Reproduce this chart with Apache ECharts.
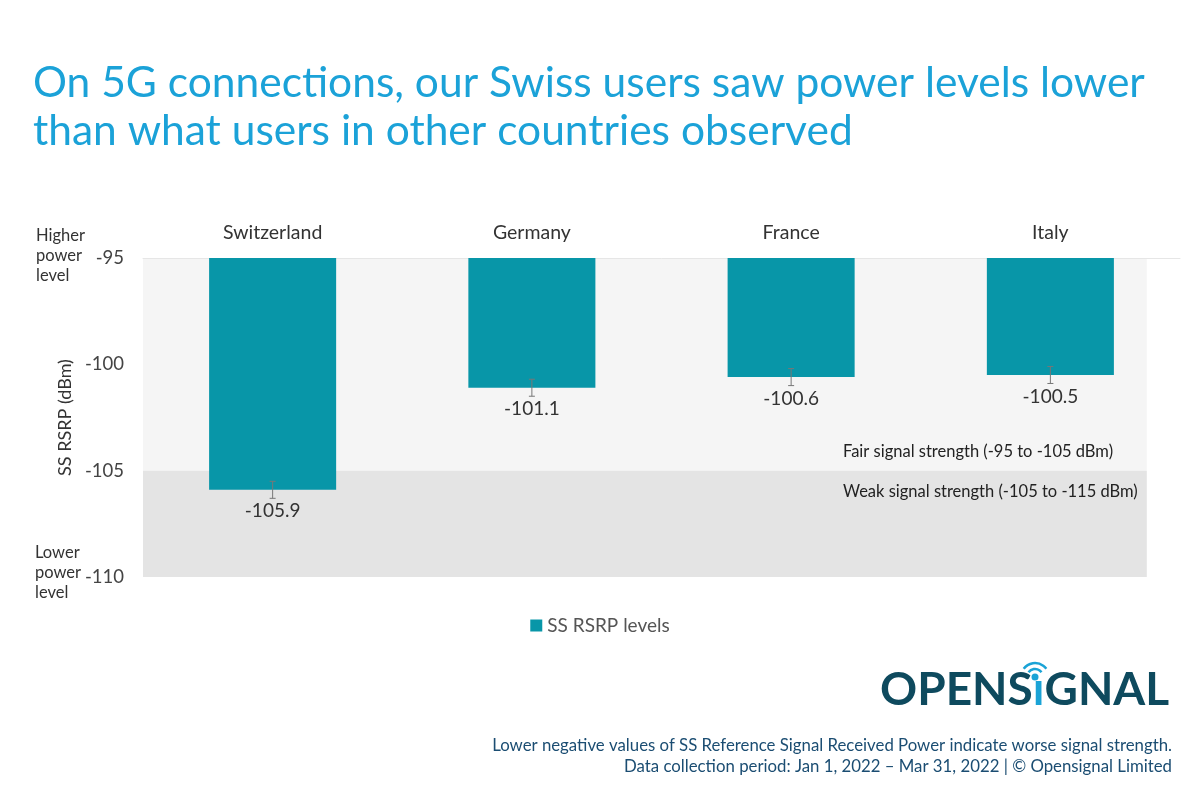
<!DOCTYPE html>
<html>
<head>
<meta charset="utf-8">
<script src="https://cdn.jsdelivr.net/npm/echarts@6/dist/echarts.min.js"></script>
<style>
	html, body { margin: 0; padding: 0; background: #fff; }
	#chart { width: 1200px; height: 800px; }
</style>
</head>
<body>
<div id="chart"></div>
<script>
var countries = ['Switzerland', 'Germany', 'France', 'Italy'];		// categories
var rsrp = [-105.9, -101.1, -100.6, -100.5];						// SS RSRP levels (dBm)
var errLow = [-106.3, -101.5, -101.0, -100.9];						// error bar lower end
var errHigh = [-105.5, -100.7, -100.2, -100.1];						// error bar upper end
var bandTop = [-95, -105];											// fair / weak bands
var bandBottom = [-105, -110];
var bandColors = ['#f5f5f5', '#e4e4e4'];

var font = 'Lato, "Open Sans", sans-serif';
var chart = echarts.init(document.getElementById('chart'));

var errData = countries.map(function (c, i) {
	return [i, errLow[i], errHigh[i]];
});
var bandData = bandTop.map(function (v, i) {
	return [bandTop[i], bandBottom[i], i];
});

var option = {
	backgroundColor: '#ffffff',
	textStyle: { fontFamily: font },
	animation: false,
	title: {
		text: 'On 5G connections, our Swiss users saw power levels lower\nthan what users in other countries observed',
		left: 28,
		top: 54,
		textStyle: { fontFamily: font, fontSize: 42.5, fontWeight: 'normal', color: '#1ba2d8', lineHeight: 48 }
	},
	legend: {
		bottom: 160,
		left: 'center',
		data: ['SS RSRP levels'],
		icon: 'rect',
		itemWidth: 12,
		itemHeight: 12,
		itemGap: 6,
		textStyle: { fontFamily: font, fontSize: 19, color: '#555' }
	},
	grid: { left: 143, right: 20, top: 258, bottom: 223 },
	xAxis: {
		type: 'category',
		position: 'top',
		data: countries,
		axisLine: { lineStyle: { color: '#e6e6e6' } },
		axisTick: { show: false },
		axisLabel: { fontFamily: font, fontSize: 19.5, color: '#333', margin: 15 }
	},
	yAxis: {
		type: 'value',
		min: -110,
		max: -95,
		interval: 5,
		name: 'SS RSRP (dBm)',
		nameLocation: 'middle',
		nameGap: 62,
		nameTextStyle: { fontFamily: font, fontSize: 18, color: '#333' },
		axisLine: { show: false },
		axisTick: { show: false },
		splitLine: { show: false },
		axisLabel: { fontFamily: font, fontSize: 18.5, color: '#444', margin: 19 }
	},
	series: [
		{
			name: 'bands',
			type: 'custom',
			data: bandData,
			silent: true,
			z: 0,
			renderItem: function (params, api) {
				var cs = params.coordSys;
				var top = api.coord([0, api.value(0)])[1];
				var bottom = api.coord([0, api.value(1)])[1];
				return {
					type: 'rect',
					shape: { x: cs.x, y: top, width: cs.width * 0.968, height: bottom - top },
					style: { fill: bandColors[api.value(2)] }
				};
			}
		},
		{
			name: 'SS RSRP levels',
			type: 'bar',
			data: rsrp,
			barWidth: '49%',
			clip: true,
			itemStyle: { color: '#0896a8' },
			label: {
				show: true,
				position: 'bottom',
				distance: 12,
				fontFamily: font,
				fontSize: 19,
				color: '#333',
				formatter: function (p) { return p.value.toFixed(1); }
			},
			z: 2
		},
		{
			name: 'error',
			type: 'custom',
			data: errData,
			z: 3,
			renderItem: function (params, api) {
				var lo = api.coord([api.value(0), api.value(1)]);
				var hi = api.coord([api.value(0), api.value(2)]);
				var w = 3;
				var st = { stroke: '#777', lineWidth: 1 };
				return {
					type: 'group',
					children: [
						{ type: 'line', shape: { x1: lo[0], y1: lo[1], x2: hi[0], y2: hi[1] }, style: st },
						{ type: 'line', shape: { x1: lo[0] - w, y1: lo[1], x2: lo[0] + w, y2: lo[1] }, style: st },
						{ type: 'line', shape: { x1: hi[0] - w, y1: hi[1], x2: hi[0] + w, y2: hi[1] }, style: st }
					]
				};
			}
		}
	],
	graphic: [
		{ type: 'text', z: 100, left: 36, top: 226, style: { text: 'Higher\npower\nlevel', font: '16.5px ' + font, fill: '#333', align: 'center', lineHeight: 20 } },
		{ type: 'text', z: 100, left: 35, top: 543, style: { text: 'Lower\npower\nlevel', font: '16.5px ' + font, fill: '#333', align: 'center', lineHeight: 20 } },
		{ type: 'text', z: 100, left: 843, top: 443, style: { text: 'Fair signal strength (-95 to -105 dBm)', font: '16.5px ' + font, fill: '#222' } },
		{ type: 'text', z: 100, left: 843, top: 483, style: { text: 'Weak signal strength (-105 to -115 dBm)', font: '16.5px ' + font, fill: '#222' } },
		{
			type: 'text', z: 100, left: 880, top: 667,
			style: {
				text: '{a|OPENS}{b|ı}{a|GNAL}',
				rich: {
					a: { font: 'bold 46px ' + font, fill: '#0e4a5e' },
					b: { font: 'bold 46px ' + font, fill: '#1aa3d6' }
				}
			}
		},
		{ type: 'circle', z: 100, shape: { cx: 1035, cy: 677, r: 3.5 }, style: { fill: '#1aa3d6' } },
		{ type: 'arc', z: 100, shape: { cx: 1035, cy: 677, r: 8, startAngle: -Math.PI * 0.8, endAngle: -Math.PI * 0.2 }, style: { stroke: '#1aa3d6', lineWidth: 2.5, fill: null } },
		{ type: 'arc', z: 100, shape: { cx: 1035, cy: 677, r: 14, startAngle: -Math.PI * 0.8, endAngle: -Math.PI * 0.2 }, style: { stroke: '#1aa3d6', lineWidth: 2.5, fill: null } },
		{ type: 'text', z: 100, right: 28, top: 737, style: { text: 'Lower negative values of SS Reference Signal Received Power indicate worse signal strength.', font: '16.8px ' + font, fill: '#1b4d72' } },
		{ type: 'text', z: 100, right: 28, top: 758, style: { text: 'Data collection period: Jan 1, 2022 \u2013 Mar 31, 2022 | \u00a9 Opensignal Limited', font: '16.8px ' + font, fill: '#1b4d72' } }
	]
};

chart.setOption(option);
</script>
</body>
</html>
